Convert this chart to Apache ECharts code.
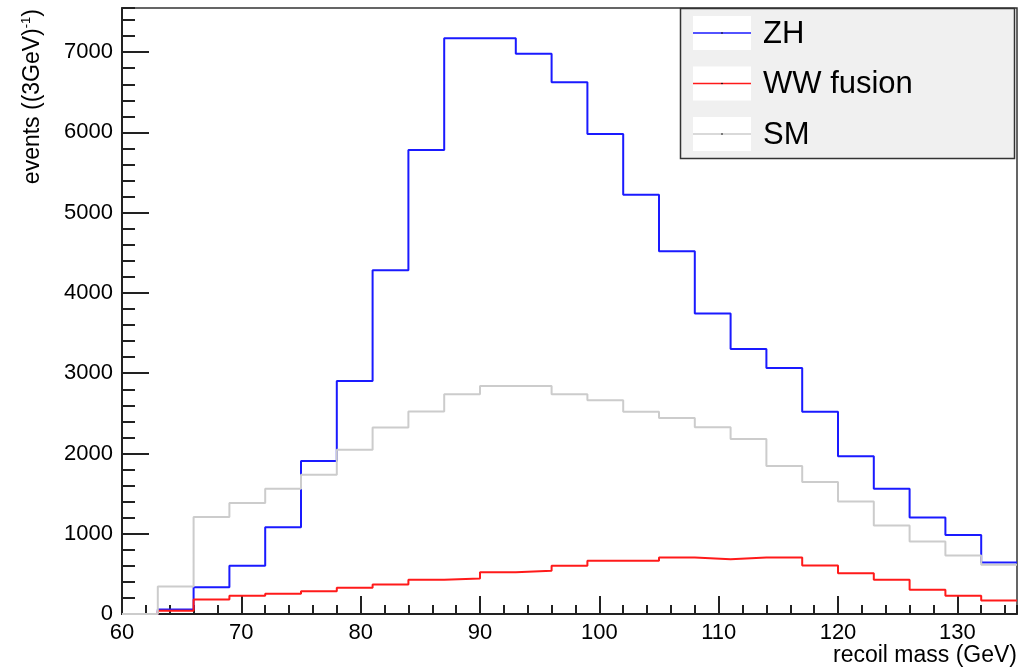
<!DOCTYPE html>
<html>
<head>
<meta charset="utf-8">
<script src="https://cdn.jsdelivr.net/npm/echarts@6/dist/echarts.min.js"></script>
<style>
html,body{margin:0;padding:0;background:#fff;}
#c{width:1035px;height:669px;}
</style>
</head>
<body>
<div id="c"></div>
<script>
// Bin low edges (GeV), bin width 3 GeV, histogram ends at 135
const binLow = [60,63,66,69,72,75,78,81,84,87,90,93,96,99,102,105,108,111,114,117,120,123,126,129,132];
const binEnd = 135;
const zh = [0,55,334,601,1082,1905,2903,4283,5780,7173,7173,6981,6624,5979,5222,4520,3743,3302,3065,2521,1964,1561,1203,983,642];
const ww = [0,40,181,227,252,284,327,368,426,443,521,538,601,663,663,704,683,704,704,605,509,426,302,227,168];
const sm = [0,343,1207,1382,1561,1736,2047,2324,2523,2737,2841,2841,2737,2662,2521,2442,2326,2180,1843,1644,1403,1104,904,730,613];
const seriesNames = ['ZH','WW fusion','SM'];
const seriesColors = ['#1a1aff','#ff1a1a','#cccccc'];
const xTitle = 'recoil mass (GeV)';
const yTitle = 'events ((3GeV)';

function steps(vals){
  const d = binLow.map((x,i)=>[x, vals[i]]);
  d.push([binEnd, vals[vals.length-1]]);
  return d;
}

const FONT = '"Liberation Sans", Arial, Helvetica, sans-serif';
const axisColor = '#222';

const chart = echarts.init(document.getElementById('c'), null, {renderer:'canvas'});

const legendItems = [];
seriesNames.forEach((n,i)=>{
  const cy = 33 + i*50.5;
  legendItems.push({type:'rect', shape:{x:693, y:cy-17, width:58, height:34}, style:{fill:'#ffffff'}, z:101});
  legendItems.push({type:'line', shape:{x1:693, y1:cy, x2:751, y2:cy}, style:{stroke:seriesColors[i], lineWidth:1.5}, z:102});
  legendItems.push({type:'circle', shape:{cx:722, cy:cy, r:0.8}, style:{fill:'#000'}, z:103});
  legendItems.push({type:'text', x:763, y:cy+1, style:{text:n, font:'31px ' + FONT, fill:'#000', textAlign:'left', textVerticalAlign:'middle'}, z:103});
});

const option = {
  animation:false,
  backgroundColor:'#ffffff',
  grid:{left:122, right:18, top:8, bottom:55, show:true, borderColor:'#333', borderWidth:1.5, backgroundColor:'transparent'},
  xAxis:[
    {type:'value', min:60, max:135, interval:10, position:'bottom',
     axisLine:{lineStyle:{color:axisColor, width:2}},
     axisTick:{inside:true, length:18, lineStyle:{color:axisColor, width:2}},
     axisLabel:{fontSize:22, color:'#000', margin:8, fontFamily:FONT, showMaxLabel:false},
     splitLine:{show:false}},
    {type:'value', min:60, max:135, interval:2, position:'bottom',
     axisLine:{show:false},
     axisTick:{inside:true, length:9, lineStyle:{color:axisColor, width:2}},
     axisLabel:{show:false}, splitLine:{show:false}}
  ],
  yAxis:[
    {type:'value', min:0, max:7550, interval:1000, position:'left',
     axisLine:{show:true, lineStyle:{color:axisColor, width:2}},
     axisTick:{show:true, inside:true, length:27, lineStyle:{color:axisColor, width:2}},
     axisLabel:{fontSize:22, color:'#000', margin:9, fontFamily:FONT, showMaxLabel:false, formatter:(v)=>String(v)},
     splitLine:{show:false}},
    {type:'value', min:0, max:7550, interval:200, position:'left',
     axisLine:{show:false},
     axisTick:{show:true, inside:true, length:13, lineStyle:{color:axisColor, width:2}},
     axisLabel:{show:false}, splitLine:{show:false}}
  ],
  series:[
    {name:seriesNames[0], type:'line', step:'end', symbol:'none', data:steps(zh), lineStyle:{color:seriesColors[0], width:2}, itemStyle:{color:seriesColors[0]}, z:3},
    {name:seriesNames[1], type:'line', step:'end', symbol:'none', data:steps(ww), lineStyle:{color:seriesColors[1], width:2}, itemStyle:{color:seriesColors[1]}, z:4},
    {name:seriesNames[2], type:'line', step:'end', symbol:'none', data:steps(sm), lineStyle:{color:seriesColors[2], width:2}, itemStyle:{color:seriesColors[2]}, z:5}
  ],
  graphic:[
    {type:'text', x:1017, y:656, style:{text:xTitle, font:'23px ' + FONT, fill:'#000', textAlign:'right', textVerticalAlign:'middle'}},
    {type:'text', x:33, y:9, rotation:Math.PI/2,
     style:{text:'{a|' + yTitle + '}{s|-1}{a|)}', textAlign:'right', textVerticalAlign:'middle',
       rich:{a:{fontSize:23, fontFamily:FONT, color:'#000'}, s:{fontSize:13, fontFamily:FONT, color:'#000', padding:[0,0,13,0]}}}},
    {type:'rect', shape:{x:680.5, y:8.5, width:334, height:150}, style:{fill:'#f0f0f0', stroke:'#333', lineWidth:1.5}, z:100}
  ].concat(legendItems)
};
chart.setOption(option);
</script>
</body>
</html>
